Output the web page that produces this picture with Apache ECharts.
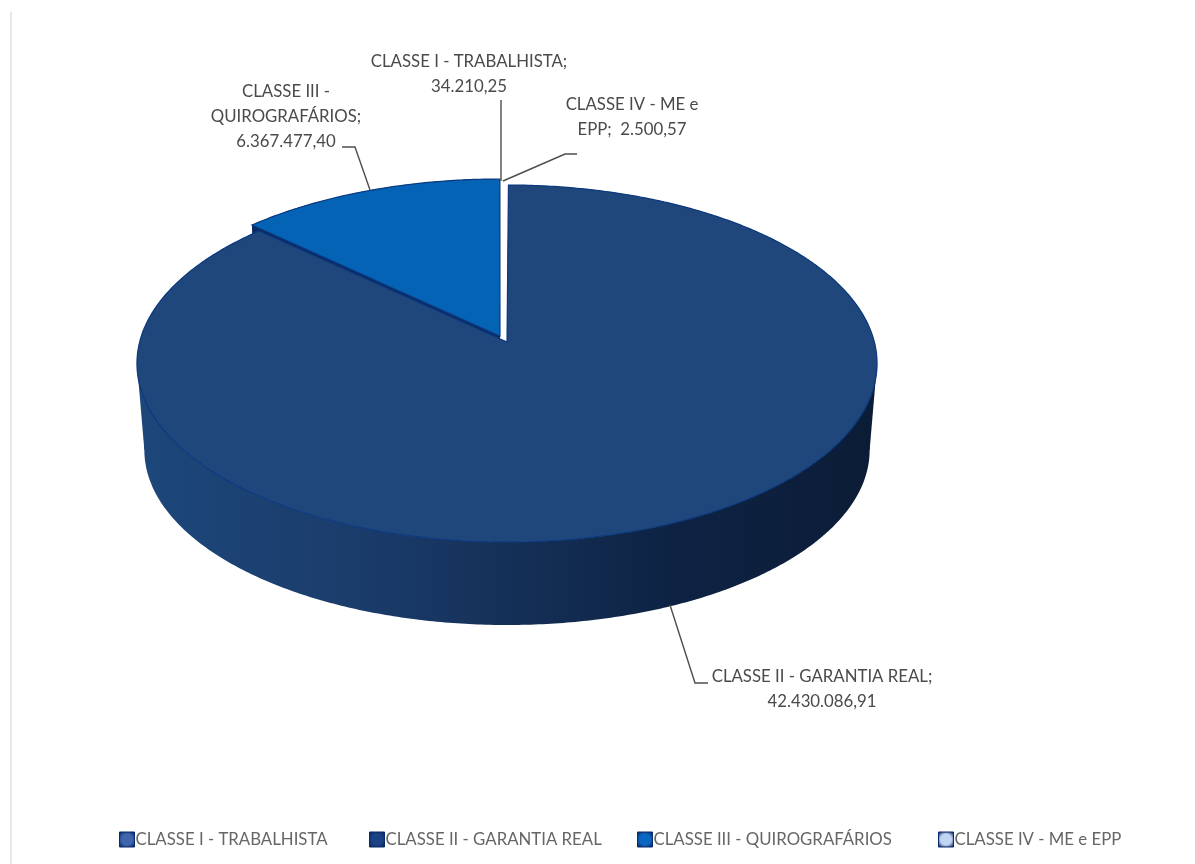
<!DOCTYPE html>
<html>
<head>
<meta charset="utf-8">
<style>html,body{margin:0;padding:0;background:#fff}#chart{width:1195px;height:864px}</style>
<script src="https://cdn.jsdelivr.net/npm/echarts@6/dist/echarts.min.js"></script>
</head>
<body>
<div id="chart"></div>
<script>
// Credit classes, in clockwise drawing order from twelve o'clock
const classNames = ['CLASSE I - TRABALHISTA', 'CLASSE II - GARANTIA REAL', 'CLASSE III - QUIROGRAFÁRIOS', 'CLASSE IV - ME e EPP'];
const classValues = [34210.25, 42430086.91, 6367477.40, 2500.57];
const valueLabels = ['34.210,25', '42.430.086,91', '6.367.477,40', '2.500,57'];
const sliceColors = ['#ffffff', '#1f477b', '#0463b5', '#ffffff'];
const legendColors = ['#3d66ae', '#1a4285', '#0a66c0', '#c3d5f4'];
const legendLefts = [119, 369, 637, 938];

const FONT = 'Lato, "Open Sans", sans-serif';
const TEXT_COLOR = '#4a4a4a';
const total = classValues.reduce((a, b) => a + b, 0);

// Perspective disc: a unit circle on the table, seen from a finite distance
const disc = { cx: 503.5, cy: 340, dist: 8.3, spanX: 3049, spanY: 1460, drop: 87, shrink: 0.98 };
// Exploded slices move apart from the centre by a small screen offset
const explode = [[0, 0], [3.5, 2], [-3.5, -4], [0, 0]];

function project(theta, off, bottom) {
  const u = Math.sin(theta), v = -Math.cos(theta), w = 1 / (disc.dist - v);
  const k = bottom ? disc.shrink : 1;
  return [
    disc.cx + off[0] + k * disc.spanX * u * w,
    disc.cy + off[1] + (bottom ? disc.drop : 0) + k * disc.spanY * v * w
  ];
}

function arc(start, end, off, bottom) {
  const n = Math.max(2, Math.ceil((end - start) / 0.01));
  const pts = [];
  for (let i = 0; i <= n; i++) pts.push(project(start + (end - start) * i / n, off, bottom));
  return pts;
}

function sliceAngles(idx) {
  let sum = 0;
  for (let i = 0; i < idx; i++) sum += classValues[i];
  const a = sum / total * Math.PI * 2;
  return [a, a + classValues[idx] / total * Math.PI * 2];
}

// Angles where the disc's outline is tangent to the vertical extrusion
const tangentRight = Math.acos(-1 / disc.dist);
const tangentLeft = Math.PI * 2 - tangentRight;

const rimFills = [
  '#ffffff',
  { type: 'linear', global: true, x: 140, y: 0, x2: 875, y2: 0, colorStops: [
    { offset: 0, color: '#1d477a' }, { offset: 0.3, color: '#1a3c6b' },
    { offset: 0.52, color: '#142f56' }, { offset: 0.72, color: '#0e2344' },
    { offset: 1, color: '#0b1c36' } ] },
  '#0a2b66',
  '#ffffff'
];

// Text blocks and leader lines for each class
const labelBlocks = [
  { x: 469, y: 62, lines: [classNames[0] + ';', valueLabels[0]], leader: [[501, 100], [501, 181]] },
  { x: 822, y: 677, lines: [classNames[1] + ';', valueLabels[1]], leader: [[670, 605], [695, 683], [708, 683]] },
  { x: 286, y: 92, lines: ['CLASSE III -', 'QUIROGRAFÁRIOS;', valueLabels[2]], leader: [[342, 147], [355, 147], [370, 190]] },
  { x: 632, y: 105, lines: ['CLASSE IV - ME e', 'EPP;  ' + valueLabels[3]], leader: [[503, 181], [565, 154], [577, 154]] }
];

function renderSlice(idx) {
  return function () {
    const [a0, a1] = sliceAngles(idx);
    const off = explode[idx];
    const apexTop = [disc.cx + off[0], disc.cy + off[1]];
    const apexLow = [apexTop[0], apexTop[1] + disc.drop];
    const topArc = arc(a0, a1, off, false);
    const lowArc = arc(a0, a1, off, true);
    const fill = rimFills[idx];
    const wall = (points) => ({ type: 'polygon', shape: { points }, style: { fill } });
    const children = [
      // Cut faces and the curved outer band
      wall([apexTop, topArc[0], lowArc[0], apexLow]),
      wall([apexTop, topArc[topArc.length - 1], lowArc[lowArc.length - 1], apexLow]),
      wall(topArc.concat(lowArc.slice().reverse()))
    ];
    // Close the outline between the top and bottom rims at the silhouette
    [tangentRight, tangentLeft].forEach((t) => {
      if (t > a0 && t < a1) children.push(wall([project(t, off, false), project(t, off, true), apexTop]));
    });
    const edge = idx === 1 || idx === 2;
    children.push({
      type: 'polygon',
      shape: { points: [apexTop].concat(topArc) },
      style: { fill: sliceColors[idx], stroke: edge ? '#0c3a80' : null, lineWidth: edge ? 1.2 : 0 }
    });
    return { type: 'group', children };
  };
}

function renderLabel(idx) {
  return function () {
    const b = labelBlocks[idx];
    const children = [{
      type: 'polyline',
      shape: { points: b.leader },
      style: { fill: null, stroke: '#4d4d4d', lineWidth: 1.4 }
    }];
    b.lines.forEach((line, i) => {
      children.push({
        type: 'text',
        style: { text: line, x: b.x, y: b.y + i * 24.6, align: 'center', verticalAlign: 'middle',
          fill: TEXT_COLOR, font: '16.8px ' + FONT }
      });
    });
    return { type: 'group', children };
  };
}

// Draw order: the quirografários wedge and its dark wall sit behind the large slice
const drawOrder = [2, 4, 1, 3];

const series = classNames.map((name, i) => ({
  type: 'custom',
  name,
  coordinateSystem: 'none',
  z: drawOrder[i],
  silent: true,
  animation: false,
  data: [[classValues[i]]],
  itemStyle: { color: legendColors[i] },
  renderItem: renderSlice(i)
})).concat(classNames.map((name, i) => ({
  type: 'custom',
  name: name + ' rótulo',
  coordinateSystem: 'none',
  z: 10,
  silent: true,
  animation: false,
  data: [[classValues[i]]],
  renderItem: renderLabel(i)
})));

const chart = echarts.init(document.getElementById('chart'), null, { renderer: 'canvas' });
chart.setOption({
  backgroundColor: '#ffffff',
  animation: false,
  legend: classNames.map((name, i) => ({
    left: legendLefts[i],
    top: 831,
    padding: 0,
    itemWidth: 15,
    itemHeight: 15,
    icon: 'rect',
    textStyle: { color: '#666666', fontFamily: FONT, fontSize: 16.8, padding: [0, 0, 0, -4] },
    data: [{
      name,
      itemStyle: {
        color: { type: 'radial', x: 0.5, y: 0.5, r: 0.62, colorStops: [
          { offset: 0, color: legendColors[i] }, { offset: 0.55, color: legendColors[i] },
          { offset: 1, color: '#0b2560' } ] },
        borderColor: '#0b2a6b',
        borderWidth: 1
      }
    }]
  })),
  graphic: [{
    type: 'line',
    shape: { x1: 11, y1: 12, x2: 11, y2: 864 },
    style: { stroke: '#e8e8e8', lineWidth: 2 },
    silent: true
  }],
  series
});
</script>
</body>
</html>
